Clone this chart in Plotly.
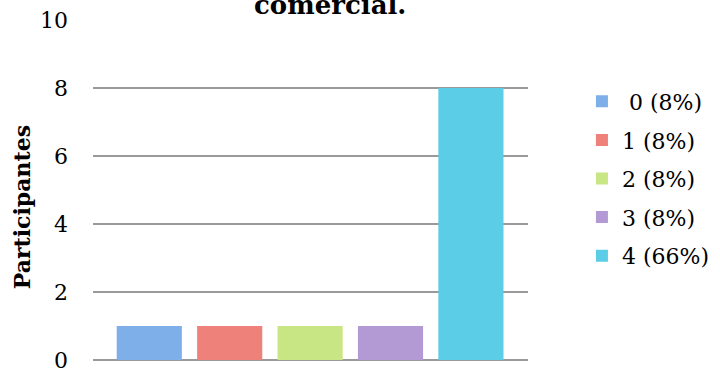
import plotly.graph_objects as go

categories = ["0", "1", "2", "3", "4"]
values = [1, 1, 1, 1, 8]
legend_labels = [" 0 (8%)", "1 (8%)", "2 (8%)", "3 (8%)", "4 (66%)"]
colors = ["#7eafe9", "#ee8179", "#c8e683", "#b39ad4", "#5ccde6"]

FONT = "DejaVu Serif"

fig = go.Figure()
for i, cat in enumerate(categories):
    fig.add_trace(go.Bar(
        x=[cat], y=[values[i]], name=legend_labels[i],
        marker=dict(color=colors[i], line=dict(width=0)),
        width=0.81, legendgroup="g%d" % i,
    ))

fig.update_layout(
    width=720, height=374,
    margin=dict(l=93, r=192, t=19.5, b=14, autoexpand=False),
    paper_bgcolor="white", plot_bgcolor="white",
    barmode="overlay",
    font=dict(family=FONT, size=22, color="#000"),
    showlegend=True,
    legend=dict(x=1.124, xanchor="left", y=0.822, yanchor="top",
                traceorder="grouped", tracegroupgap=7,
                font=dict(family=FONT, size=22), bgcolor="rgba(0,0,0,0)"),
    xaxis=dict(type="category", categoryarray=categories, range=[-0.7, 4.71],
               showticklabels=False, showgrid=False, zeroline=False,
               showline=False, ticks="", automargin=False),
    yaxis=dict(range=[0, 10], dtick=2, showgrid=True, gridcolor="#9a9a9a",
               gridwidth=1.5, zeroline=True, zerolinecolor="#9a9a9a",
               zerolinewidth=1.5, showline=False, ticks="",
               ticklabelstandoff=24, automargin=False,
               tickfont=dict(family=FONT, size=22)),
    annotations=[
        dict(text="<b>comercial.</b>", xref="paper", yref="paper",
             x=(330 - 93) / 435, y=1.0455, xanchor="center",
             yanchor="middle", showarrow=False,
             font=dict(family=FONT, size=26, color="#000")),
        dict(text="<b>Participantes</b>", xref="paper", yref="paper",
             x=(22 - 93) / 435, y=1 - (207 - 19.5) / 340.5, textangle=-90,
             xanchor="center", yanchor="middle", showarrow=False,
             font=dict(family=FONT, size=22, color="#000")),
    ],
)

fig.write_html("out.html", config={"displayModeBar": False},
               post_script="document.body.style.margin='0';document.body.style.overflow='hidden';")
